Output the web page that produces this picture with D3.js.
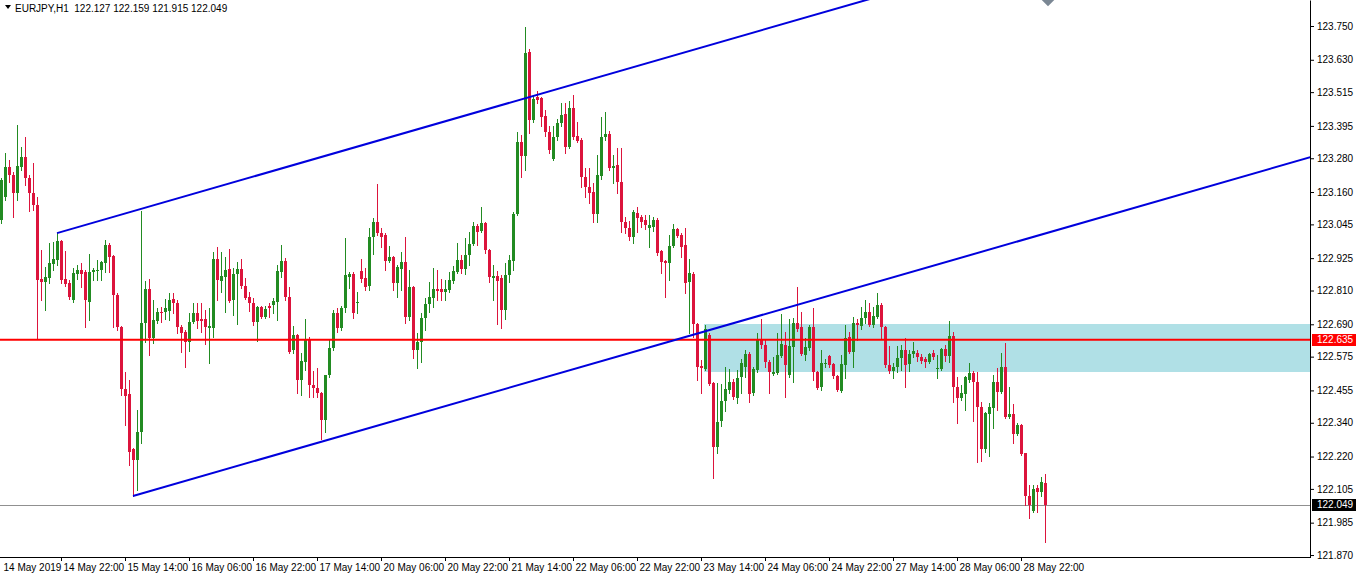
<!DOCTYPE html>
<html><head><meta charset="utf-8">
<script src="https://cdn.jsdelivr.net/npm/d3@7"></script>
<style>
html,body{margin:0;padding:0;background:#fff;}
svg{display:block;}
text{font-family:"Liberation Sans",Arial,sans-serif;font-size:10px;fill:#000;}
</style></head><body>
<svg id="chart" width="1357" height="577"></svg>
<script>
const symbol = "EURJPY,H1";
// hourly bars, first bar = 14 May 2019 07:00
const open = [
/*0*/ 123.060,123.142,123.249,123.220,123.156,123.249,123.284,123.210,123.156,123.114,
/*10*/122.851,122.840,122.855,122.904,122.918,122.985,122.851,122.836,122.776,122.869,
/*20*/122.883,122.876,122.769,122.876,122.879,122.883,122.907,122.972,122.932,122.794,
/*30*/122.680,122.460,122.442,122.246,122.207,122.307,122.694,122.815,122.641,122.701,
/*40*/122.733,122.733,122.737,122.780,122.765,122.680,122.663,122.627,122.698,122.730,
/*50*/122.709,122.709,122.677,122.677,122.922,122.843,122.858,122.886,122.776,122.869,
/*60*/122.886,122.826,122.787,122.765,122.698,122.751,122.716,122.755,122.758,122.769,
/*70*/122.876,122.914,122.787,122.598,122.652,122.492,122.556,122.638,122.474,122.463,
/*80*/122.445,122.350,122.510,122.605,122.730,122.677,122.747,122.858,122.869,122.765,
/*90*/122.879,122.855,122.826,123.000,123.053,123.014,123.007,122.914,122.929,122.836,
/*100*/122.886,122.911,122.716,122.822,122.598,122.627,122.712,122.762,122.783,122.815,
/*110*/122.815,122.805,122.812,122.843,122.876,122.918,122.886,122.936,122.975,123.039,
/*120*/123.021,123.049,122.954,122.855,122.861,122.855,122.740,122.865,122.914,123.082,
/*130*/123.338,123.288,123.657,123.416,123.497,123.494,123.430,123.373,123.277,123.355,
/*140*/123.405,123.437,123.320,123.458,123.359,123.345,123.213,123.178,123.160,123.082,
/*150*/123.217,123.355,123.366,123.245,123.256,123.196,123.053,123.032,123.000,123.085,
/*160*/123.071,123.060,123.032,123.035,123.060,122.950,122.914,122.907,122.968,123.028,
/*170*/123.007,122.972,122.840,122.869,122.691,122.541,122.531,122.652,122.481,122.254,
/*180*/122.346,122.417,122.456,122.485,122.428,122.502,122.538,122.584,122.445,122.527,
/*190*/122.634,122.616,122.556,122.513,122.517,122.577,122.616,122.510,122.609,122.694,
/*200*/122.680,122.581,122.605,122.680,122.520,122.467,122.549,122.577,122.549,122.506,
/*210*/122.453,122.545,122.645,122.591,122.694,122.684,122.712,122.733,122.687,122.716,
/*220*/122.758,122.680,122.545,122.524,122.538,122.570,122.598,122.549,122.584,122.588,
/*230*/122.573,122.566,122.556,122.588,122.531,122.531,122.602,122.577,122.648,122.467,
/*240*/122.428,122.442,122.492,122.517,122.485,122.396,122.246,122.371,122.392,122.485,
/*250*/122.449,122.538,122.360,122.371,122.300,122.332,122.232,122.080,122.026,122.108,
/*260*/122.094,122.127];
const high = [
/*0*/ 123.210,123.298,123.274,123.231,123.398,123.320,123.355,123.220,123.263,123.142,
/*10*/122.954,122.893,122.978,122.982,123.014,122.989,122.950,122.847,122.890,122.900,
/*20*/122.907,122.883,122.940,122.890,122.918,122.914,122.989,122.978,122.936,122.801,
/*30*/122.684,122.520,122.492,122.250,122.385,123.092,122.843,122.851,122.776,122.747,
/*40*/122.751,122.780,122.801,122.801,122.776,122.687,122.670,122.730,122.765,122.765,
/*50*/122.765,122.740,122.747,122.947,122.964,122.947,122.929,122.957,122.890,122.911,
/*60*/122.922,122.855,122.805,122.783,122.755,122.755,122.755,122.765,122.783,122.900,
/*70*/122.972,122.925,122.822,122.684,122.656,122.588,122.709,122.645,122.524,122.534,
/*80*/122.449,122.510,122.634,122.740,122.747,122.755,122.996,122.876,122.876,122.805,
/*90*/122.922,122.890,123.032,123.067,123.188,123.032,123.014,122.968,122.932,122.900,
/*100*/122.947,123.000,122.883,122.826,122.659,122.730,122.783,122.840,122.890,122.883,
/*110*/122.851,122.847,122.876,122.897,122.978,122.936,122.996,123.018,123.053,123.046,
/*120*/123.107,123.053,122.957,122.900,122.879,122.865,122.907,122.936,123.089,123.373,
/*130*/123.362,123.746,123.668,123.504,123.519,123.497,123.451,123.394,123.394,123.419,
/*140*/123.476,123.476,123.483,123.504,123.409,123.352,123.245,123.245,123.192,123.291,
/*150*/123.426,123.444,123.377,123.291,123.316,123.316,123.071,123.057,123.096,123.107,
/*160*/123.078,123.078,123.078,123.071,123.067,122.954,122.918,123.007,123.046,123.032,
/*170*/123.014,123.032,122.922,122.876,122.694,122.563,122.687,122.659,122.485,122.481,
/*180*/122.478,122.538,122.531,122.495,122.527,122.566,122.598,122.591,122.538,122.659,
/*190*/122.709,122.634,122.563,122.573,122.659,122.726,122.663,122.709,122.712,122.822,
/*200*/122.733,122.641,122.687,122.747,122.524,122.598,122.566,122.581,122.552,122.510,
/*210*/122.581,122.687,122.663,122.716,122.709,122.751,122.776,122.765,122.751,122.801,
/*220*/122.765,122.684,122.613,122.552,122.613,122.616,122.641,122.598,122.627,122.598,
/*230*/122.584,122.573,122.588,122.598,122.581,122.605,122.616,122.701,122.663,122.502,
/*240*/122.474,122.506,122.552,122.524,122.520,122.413,122.378,122.410,122.510,122.534,
/*250*/122.588,122.623,122.467,122.406,122.339,122.335,122.232,122.118,122.118,122.118,
/*260*/122.147,122.159];
const low = [
/*0*/ 123.049,123.132,123.196,123.071,123.132,123.238,123.185,123.092,123.096,122.642,
/*10*/122.776,122.740,122.836,122.883,122.900,122.836,122.826,122.780,122.769,122.851,
/*20*/122.822,122.680,122.705,122.847,122.847,122.847,122.876,122.876,122.680,122.670,
/*30*/122.438,122.332,122.190,122.080,122.101,122.267,122.627,122.581,122.623,122.694,
/*40*/122.698,122.709,122.705,122.730,122.659,122.591,122.538,122.595,122.694,122.677,
/*50*/122.663,122.620,122.552,122.645,122.776,122.805,122.733,122.769,122.723,122.691,
/*60*/122.819,122.780,122.737,122.687,122.630,122.712,122.712,122.716,122.730,122.705,
/*70*/122.858,122.776,122.588,122.588,122.445,122.438,122.527,122.431,122.431,122.431,
/*80*/122.282,122.307,122.502,122.598,122.663,122.670,122.733,122.819,122.712,122.730,
/*90*/122.840,122.812,122.812,122.940,123.007,122.964,122.883,122.911,122.812,122.787,
/*100*/122.812,122.694,122.705,122.570,122.534,122.556,122.670,122.733,122.751,122.776,
/*110*/122.776,122.776,122.805,122.836,122.872,122.872,122.869,122.900,122.972,122.972,
/*120*/123.018,122.943,122.840,122.776,122.691,122.677,122.709,122.840,122.883,123.078,
/*130*/123.213,123.238,123.369,123.409,123.476,123.394,123.359,123.298,123.274,123.345,
/*140*/123.394,123.298,123.316,123.348,123.338,123.178,123.142,123.121,123.053,123.053,
/*150*/123.206,123.345,123.238,123.192,123.156,123.018,123.014,122.989,122.978,123.018,
/*160*/123.035,123.028,122.964,123.021,122.936,122.872,122.787,122.847,122.964,123.000,
/*170*/122.929,122.801,122.659,122.645,122.492,122.445,122.527,122.474,122.143,122.232,
/*180*/122.328,122.381,122.445,122.424,122.410,122.445,122.502,122.413,122.438,122.520,
/*190*/122.605,122.538,122.445,122.510,122.513,122.573,122.431,122.502,122.485,122.666,
/*200*/122.581,122.563,122.598,122.492,122.460,122.456,122.538,122.538,122.499,122.453,
/*210*/122.449,122.499,122.588,122.538,122.634,122.673,122.694,122.684,122.680,122.712,
/*220*/122.641,122.538,122.517,122.499,122.520,122.527,122.467,122.524,122.573,122.559,
/*230*/122.552,122.538,122.552,122.566,122.499,122.527,122.559,122.556,122.413,122.339,
/*240*/122.421,122.385,122.485,122.346,122.200,122.204,122.236,122.221,122.321,122.385,
/*250*/122.445,122.357,122.357,122.268,122.296,122.225,122.047,122.001,122.023,122.023,
/*260*/122.080,121.915];
const close = [
/*0*/ 123.203,123.249,123.220,123.156,123.253,123.284,123.210,123.156,123.114,122.847,
/*10*/122.840,122.858,122.907,122.922,122.985,122.847,122.833,122.787,122.872,122.883,
/*20*/122.869,122.776,122.876,122.883,122.883,122.911,122.972,122.929,122.794,122.680,
/*30*/122.460,122.435,122.236,122.207,122.307,122.694,122.815,122.641,122.705,122.733,
/*40*/122.730,122.747,122.776,122.765,122.680,122.659,122.627,122.698,122.730,122.701,
/*50*/122.701,122.680,122.684,122.922,122.847,122.861,122.883,122.772,122.869,122.886,
/*60*/122.826,122.783,122.765,122.698,122.751,122.716,122.744,122.747,122.772,122.879,
/*70*/122.914,122.787,122.591,122.652,122.492,122.559,122.638,122.474,122.463,122.445,
/*80*/122.350,122.510,122.605,122.730,122.677,122.747,122.865,122.869,122.730,122.769,
/*90*/122.851,122.822,123.000,123.053,123.014,123.000,122.914,122.929,122.836,122.893,
/*100*/122.911,122.716,122.822,122.598,122.627,122.712,122.762,122.787,122.815,122.808,
/*110*/122.805,122.815,122.847,122.879,122.918,122.886,122.936,122.975,123.039,123.018,
/*120*/123.049,122.954,122.858,122.861,122.843,122.740,122.865,122.918,123.082,123.338,
/*130*/123.288,123.654,123.416,123.490,123.487,123.426,123.373,123.309,123.355,123.405,
/*140*/123.433,123.320,123.458,123.355,123.341,123.213,123.178,123.156,123.082,123.220,
/*150*/123.355,123.366,123.245,123.252,123.196,123.053,123.032,123.000,123.089,123.067,
/*160*/123.053,123.043,123.043,123.060,122.943,122.911,122.907,122.968,123.028,123.003,
/*170*/122.964,122.836,122.872,122.691,122.538,122.534,122.673,122.478,122.254,122.343,
/*180*/122.417,122.460,122.485,122.431,122.499,122.552,122.584,122.442,122.531,122.634,
/*190*/122.616,122.556,122.520,122.520,122.581,122.620,122.545,122.613,122.694,122.673,
/*200*/122.584,122.609,122.680,122.520,122.463,122.552,122.552,122.545,122.506,122.456,
/*210*/122.549,122.641,122.591,122.694,122.687,122.712,122.733,122.687,122.719,122.758,
/*220*/122.680,122.545,122.524,122.538,122.570,122.598,122.545,122.584,122.595,122.573,
/*230*/122.559,122.556,122.584,122.573,122.534,122.602,122.577,122.648,122.467,122.428,
/*240*/122.445,122.502,122.517,122.485,122.396,122.246,122.374,122.396,122.485,122.449,
/*250*/122.538,122.360,122.371,122.300,122.332,122.229,122.080,122.047,122.104,122.094,
/*260*/122.129,122.049];

const timeLabels = ["14 May 2019","14 May 22:00","15 May 14:00","16 May 06:00","16 May 22:00",
  "17 May 14:00","20 May 06:00","20 May 22:00","21 May 14:00","22 May 06:00","22 May 22:00",
  "23 May 14:00","24 May 06:00","24 May 22:00","27 May 14:00","28 May 06:00","28 May 22:00"];
const timeLabelBars = [0,15,31,47,63,79,95,111,127,143,159,175,191,207,223,239,255];
const priceTicks = [123.750,123.630,123.515,123.395,123.280,123.160,123.045,122.925,122.810,
  122.690,122.575,122.455,122.340,122.220,122.105,121.985,121.870];

const hLinePrice = 122.635;          // red horizontal line
const bidPrice = 122.049;            // current bid line
const zone = {startBar:175.75, endBar:340, top:122.690, bottom:122.520};
const trendUpper = [[14,123.014],[131,123.493]];
const trendLower = [[33,122.080],[178,122.673]];
const rayEndBar = 340;
const marker = [261.75, 123.845];

const N = close.length;
const W = 1357, H = 577, plotR = 1310, plotB = 557;
const svg = d3.select("#chart");

const x = d3.scaleLinear().domain([0, N-1]).range([1, 1045]);
const y = d3.scaleLinear().domain([121.863, 123.8424]).range([plotB, 0]);

svg.append("defs").append("clipPath").attr("id","plot")
  .append("rect").attr("x",0).attr("y",0).attr("width",plotR).attr("height",plotB);

const plot = svg.append("g").attr("clip-path","url(#plot)");

// zone rectangle (background)
plot.append("rect")
  .attr("x", x(zone.startBar)).attr("y", Math.round(y(zone.top)))
  .attr("width", x(zone.endBar)-x(zone.startBar))
  .attr("height", Math.round(y(zone.bottom))-Math.round(y(zone.top)))
  .attr("fill","#B0E0E6");

// bid line
plot.append("line")
  .attr("x1",0).attr("x2",plotR)
  .attr("y1",Math.round(y(bidPrice))+0.5).attr("y2",Math.round(y(bidPrice))+0.5)
  .attr("stroke","#909090").attr("stroke-width",1);

// candles
const idx = d3.range(N);
const col = i => close[i] >= open[i] ? "#228B22" : "#DC143C";
const cg = plot.append("g");
cg.selectAll("rect.wick").data(idx).join("rect").attr("class","wick")
  .attr("x", i => Math.round(x(i)))
  .attr("y", i => Math.round(y(high[i])))
  .attr("width",1)
  .attr("height", i => Math.round(y(low[i])) - Math.round(y(high[i])) + 1)
  .attr("fill", col);
cg.selectAll("rect.body").data(idx).join("rect").attr("class","body")
  .attr("x", i => Math.round(x(i)) - 1)
  .attr("y", i => Math.round(y(Math.max(open[i],close[i]))))
  .attr("width",3)
  .attr("height", i => Math.max(1, Math.round(y(Math.min(open[i],close[i]))) - Math.round(y(Math.max(open[i],close[i])))))
  .attr("fill", col);

// red horizontal line
plot.append("line")
  .attr("x1",0).attr("x2",plotR)
  .attr("y1",y(hLinePrice)).attr("y2",y(hLinePrice))
  .attr("stroke","#FF0000").attr("stroke-width",2);

// trend rays
function rayPts(t){
  const [[b1,p1],[b2,p2]] = t;
  const s = (p2-p1)/(b2-b1);
  return [[b1,p1],[rayEndBar, p1 + s*(rayEndBar-b1)]];
}
const line = d3.line().x(d => x(d[0])).y(d => y(d[1]));
[trendUpper, trendLower].forEach(t => {
  plot.append("path").attr("d", line(rayPts(t)))
    .attr("fill","none").attr("stroke","#0000DD").attr("stroke-width",2);
});

// marker (diamond) at top
const mx = x(marker[0]), my = y(marker[1]);
plot.append("path")
  .attr("d", `M${mx},${my-7}L${mx+7},${my}L${mx},${my+7}L${mx-7},${my}Z`)
  .attr("fill","#7B8794");

// right axis
const ya = svg.append("g").attr("transform",`translate(${plotR},0)`)
  .call(d3.axisRight(y).tickValues(priceTicks).tickFormat(d3.format(".3f")).tickSize(4).tickSizeOuter(0));
ya.select(".domain").attr("stroke","#000");
ya.selectAll(".tick line").attr("stroke","#000");
ya.selectAll(".tick text").attr("fill","#000").style("font-family",'"Liberation Sans",Arial,sans-serif').style("font-size","10px");
ya.attr("font-family",null).attr("font-size",null);

// bottom axis line
svg.append("line").attr("x1",0).attr("x2",plotR+1).attr("y1",plotB+0.5).attr("y2",plotB+0.5).attr("stroke","#000");
const xa = svg.append("g").attr("transform",`translate(0,${plotB})`)
  .call(d3.axisBottom(x).tickValues(timeLabelBars).tickFormat((d,i)=>timeLabels[i]).tickSize(4).tickSizeOuter(0));
xa.select(".domain").remove();
xa.attr("font-family",null).attr("font-size",null);
xa.selectAll(".tick line").attr("stroke","#000").filter((d,i)=>i===0).remove();
xa.selectAll(".tick text").attr("text-anchor","start").attr("x",2).attr("fill","#000");

// price labels
function priceLabel(p, bg){
  const yy = Math.round(y(p));
  svg.append("rect").attr("x",plotR+2).attr("y",yy-6).attr("width",44).attr("height",12).attr("fill",bg);
  svg.append("text").attr("x",plotR+7).attr("y",yy).attr("dy","0.34em").style("fill","#fff").text(d3.format(".3f")(p));
}
priceLabel(hLinePrice, "#FF0000");
priceLabel(bidPrice, "#000000");

// title
svg.append("path").attr("d","M5,5L11,5L8,9Z").attr("fill","#000");
const f3 = d3.format(".3f");
svg.append("text").attr("x",15).attr("y",12).attr("xml:space","preserve")
  .text(`${symbol}  ${f3(open[N-1])} ${f3(high[N-1])} ${f3(low[N-1])} ${f3(close[N-1])}`);
</script>
</body></html>
